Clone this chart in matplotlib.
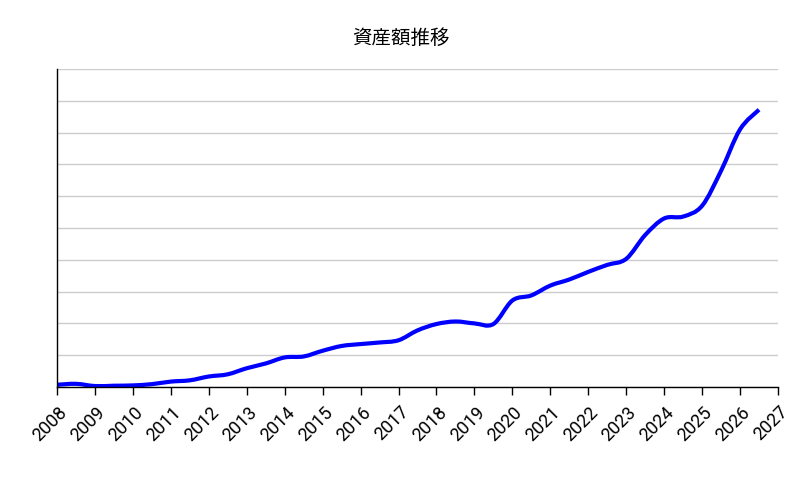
import numpy as np
import matplotlib
matplotlib.use("Agg")
import matplotlib.pyplot as plt
from matplotlib.path import Path
from matplotlib.patches import PathPatch
from matplotlib.transforms import ScaledTranslation

plt.rcParams['font.family'] = ['Roboto', 'Noto Sans CJK JP', 'DejaVu Sans']

# half-yearly values (units = one gridline step)
years = [2008.0, 2008.5, 2009.0, 2009.5, 2010.0, 2010.5, 2011.0, 2011.5,
         2012.0, 2012.5, 2013.0, 2013.5, 2014.0, 2014.5, 2015.0, 2015.5,
         2016.0, 2016.5, 2017.0, 2017.5, 2018.0, 2018.5, 2019.0, 2019.5,
         2020.0, 2020.5, 2021.0, 2021.5, 2022.0, 2022.5, 2023.0, 2023.5,
         2024.0, 2024.5, 2025.0, 2025.5, 2026.0, 2026.5]
assets = [0.07, 0.10, 0.03, 0.04, 0.05, 0.09, 0.17, 0.21,
          0.33, 0.40, 0.59, 0.74, 0.93, 0.96, 1.14, 1.29,
          1.35, 1.40, 1.47, 1.78, 1.98, 2.06, 2.00, 1.98,
          2.72, 2.88, 3.19, 3.38, 3.62, 3.84, 4.03, 4.78,
          5.30, 5.36, 5.70, 6.80, 8.10, 8.72]
tick_years = list(range(2008, 2028))
title = '資産額推移'


def smooth_path(x, y):
    # catmull-rom curve through the points, as cubic bezier segments
    pts = np.column_stack([x, y])
    ext = np.vstack([pts[0], pts, pts[-1]])
    verts = [pts[0]]
    codes = [Path.MOVETO]
    for i in range(len(pts) - 1):
        p0, p1, p2, p3 = ext[i], ext[i + 1], ext[i + 2], ext[i + 3]
        c1 = p1 + (p2 - p0) / 6
        c2 = p2 - (p3 - p1) / 6
        verts += [c1, c2, p2]
        codes += [Path.CURVE4] * 3
    return Path(verts, codes)


fig = plt.figure(figsize=(8.02, 4.96), dpi=100)
ax = fig.add_axes([57 / 802, 109 / 496, 721 / 802, 318 / 496])

ax.add_patch(PathPatch(smooth_path(years, assets), fill=False,
                       edgecolor='#0000ff', linewidth=3.0, capstyle='butt'))

ax.set_xlim(2008, 2027)
ax.set_ylim(0, 10)
ax.set_yticks(range(0, 11))
ax.set_yticklabels([])
ax.tick_params(axis='y', length=0)
ax.grid(axis='y', color='#cccccc', linewidth=1)
ax.set_axisbelow(True)

ax.set_xticks(tick_years)
ax.set_xticklabels([str(t) for t in tick_years], rotation=45, ha='center',
                   va='top', fontsize=13)
ax.tick_params(axis='x', length=5.5, width=1, pad=6, colors='black')
offset = ScaledTranslation(-7 / 100, 0, fig.dpi_scale_trans)
for lbl in ax.get_xticklabels():
    lbl.set_transform(lbl.get_transform() + offset)

for side in ['top', 'right']:
    ax.spines[side].set_visible(False)
ax.spines['left'].set_linewidth(1)
ax.spines['bottom'].set_linewidth(1)

fig.text(0.5, 1 - 38 / 496, title, ha='center', va='center', fontsize=14,
         family=['Noto Sans CJK JP', 'DejaVu Sans'])

fig.savefig('out.png', dpi=100)
